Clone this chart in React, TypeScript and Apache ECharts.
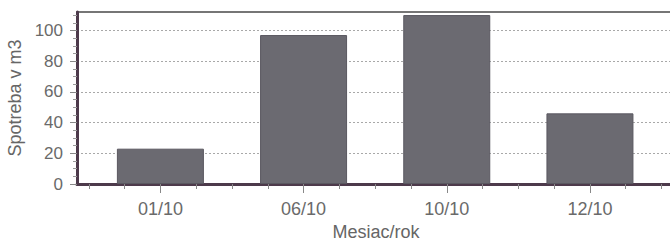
import React, { useEffect, useRef } from 'react';
import * as echarts from 'echarts';

const categories = ['01/10', '06/10', '10/10', '12/10'];
const consumption = [23, 97, 110, 46];
const yTickValues = [0, 20, 40, 60, 80, 100];
const yMinorTickValues = [5, 10, 15, 25, 30, 35, 45, 50, 55, 65, 70, 75, 85, 90, 95, 105, 110];
const xMinorTickValues = [-0.5, -0.25, 0.25, 0.5, 0.75, 1.25, 1.5, 1.75, 2.25, 2.5, 2.75, 3.25, 3.5];
const yName = 'Spotreba v m3';
const xName = 'Mesiac/rok';

const FONT = 'Liberation Sans, Arial, sans-serif';
const X_MIN = -0.5824;
const X_MAX = 3.594;
const Y_MIN = 0;
const Y_MAX = 112;

export default function App() {
  const ref = useRef<HTMLDivElement>(null);
  useEffect(() => {
    if (!ref.current) return;
    const chart = echarts.init(ref.current, undefined, { renderer: 'svg' });
    const categoryPositions = categories.map((_, i) => i);
    chart.setOption({
      animation: false,
      backgroundColor: '#ffffff',
      grid: {
        left: 77,
        top: 12,
        width: 598,
        height: 172,
        outerBoundsMode: 'none',
        containLabel: false,
        show: true,
        backgroundColor: '#ffffff',
        borderColor: '#4a4a4a',
        borderWidth: 1.5,
      },
      xAxis: [
        {
          type: 'value',
          position: 'bottom',
          min: X_MIN,
          max: X_MAX,
          name: xName,
          nameLocation: 'middle',
          nameGap: 39,
          nameTextStyle: { fontFamily: FONT, fontSize: 18, lineHeight: 17, color: '#666' },
          axisLine: { show: true, onZero: false, lineStyle: { color: '#4d3a4b', width: 3 } },
          axisTick: {
            show: true,
            inside: false,
            length: 9,
            customValues: categoryPositions,
            lineStyle: { color: '#888', width: 1 },
          },
          axisLabel: {
            show: true,
            margin: 16,
            customValues: categoryPositions,
            formatter: (v: number) => categories[Math.round(v)] ?? '',
            fontFamily: FONT,
            fontSize: 18,
            color: '#6a6a6a',
          },
          splitLine: { show: false },
        },
        {
          type: 'value',
          position: 'bottom',
          min: X_MIN,
          max: X_MAX,
          axisLine: { show: false, onZero: false },
          axisTick: {
            show: true,
            inside: false,
            length: 5,
            customValues: xMinorTickValues,
            lineStyle: { color: '#888', width: 1 },
          },
          axisLabel: { show: false },
          splitLine: { show: false },
        },
      ],
      yAxis: [
        {
          type: 'value',
          position: 'left',
          min: Y_MIN,
          max: Y_MAX,
          interval: 20,
          name: yName,
          nameLocation: 'middle',
          nameGap: 42,
          nameTextStyle: { fontFamily: FONT, fontSize: 18, color: '#666' },
          axisLine: { show: true, onZero: false, lineStyle: { color: '#4d3a4b', width: 3 } },
          axisTick: {
            show: true,
            inside: false,
            length: 7,
            customValues: yTickValues,
            lineStyle: { color: '#888', width: 1 },
          },
          axisLabel: {
            show: true,
            margin: 14,
            customValues: yTickValues,
            fontFamily: FONT,
            fontSize: 17,
            color: '#6a6a6a',
          },
          splitLine: {
            show: true,
            lineStyle: { color: '#a8a8a8', width: 1, type: [2, 2] },
          },
        },
        {
          type: 'value',
          position: 'left',
          min: Y_MIN,
          max: Y_MAX,
          axisLine: { show: false, onZero: false },
          axisTick: {
            show: true,
            inside: false,
            length: 4,
            customValues: yMinorTickValues,
            lineStyle: { color: '#999', width: 1 },
          },
          axisLabel: { show: false },
          splitLine: { show: false },
        },
      ],
      series: [
        {
          type: 'bar',
          xAxisIndex: 0,
          yAxisIndex: 0,
          barWidth: 87,
          data: categories.map((_, i) => [i, consumption[i]]),
          itemStyle: { color: '#6b6a71', borderColor: '#5a5860', borderWidth: 1 },
          z: 3,
        },
      ],
    });
    return () => chart.dispose();
  }, []);
  return (
    <div
      ref={ref}
      style={{ position: 'absolute', left: 0, top: 0, width: 670, height: 241 }}
    />
  );
}
